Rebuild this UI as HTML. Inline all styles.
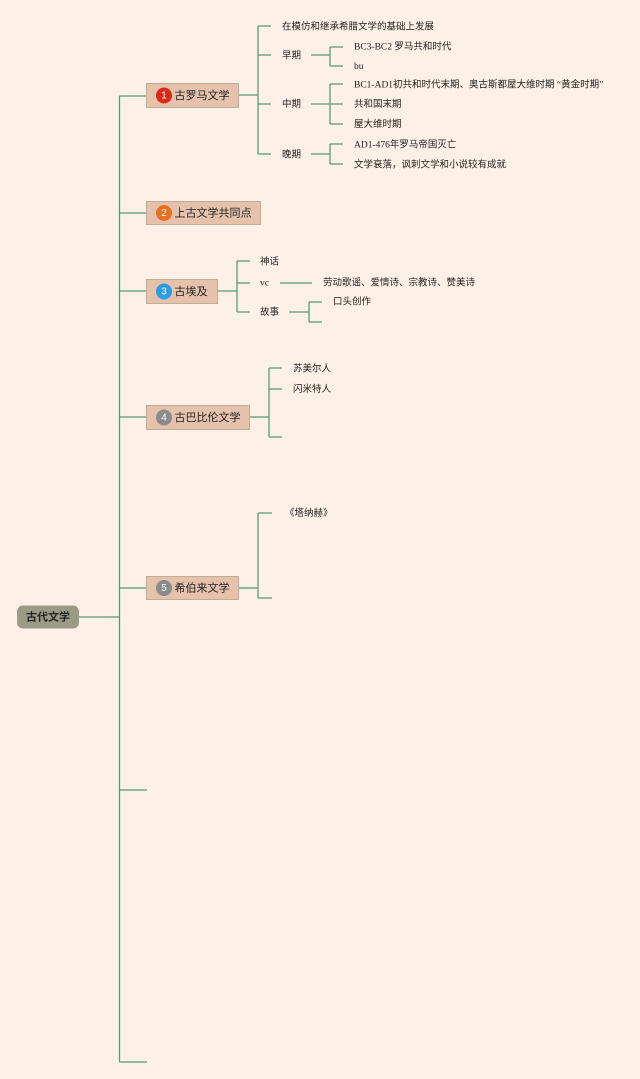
<!DOCTYPE html>
<html><head><meta charset="utf-8"><style>
html,body{margin:0;padding:0;background:#fdf1e7;}
svg{display:block;}
text{font-family:"Liberation Sans","Noto Sans CJK SC",sans-serif;fill:#222;}
.l{font-size:9.5px;font-family:"Liberation Serif","Noto Sans CJK SC",serif;}
.n{font-size:11px;}
.b{font-size:10px;fill:#fff;}
</style></head><body>
<svg width="640" height="1079" viewBox="0 0 640 1079" xmlns="http://www.w3.org/2000/svg">
<rect width="640" height="1079" fill="#fdf1e7"/>
<g stroke="#55997a" stroke-width="1.3" fill="none">
<!-- trunk -->
<path d="M79 617 H119.5 M119.5 96 V1062"/>
<path d="M119.5 96 H146 M119.5 213 H146 M119.5 291 H146 M119.5 417 H146 M119.5 588 H146 M119.5 790 H147 M119.5 1062 H147"/>
<!-- node1 -->
<path d="M238 95 H258 M258 26 V154 M258 26 H271 M258 55 H271 M258 104 H271 M258 154 H271"/>
<path d="M311 55 H330 M330 47 V66 M330 47 H343 M330 66 H343"/>
<path d="M311 104 H343 M330 84 V124 M330 84 H343 M330 124 H343"/>
<path d="M311 154 H330 M330 144 V164 M330 144 H343 M330 164 H343"/>
<!-- node3 -->
<path d="M217 291 H237 M237 261 V312 M237 261 H250 M237 283 H250 M237 312 H250"/>
<path d="M280 283 H312"/>
<path d="M289 312 H309 M309 302 V322 M309 302 H322 M309 322 H322"/>
<!-- node4 -->
<path d="M249 417 H269 M269 368 V437 M269 368 H282 M269 389 H282 M269 437 H282"/>
<!-- node5 -->
<path d="M238 588 H258 M258 513 V598 M258 513 H272 M258 598 H272"/>
</g>

<!-- root -->
<rect x="17" y="605.5" width="62" height="23" rx="6" fill="#9a9a86"/>
<text x="48" y="617.5" class="n" text-anchor="middle" dominant-baseline="central" style="font-weight:bold">古代文学</text>

<!-- main nodes -->
<g stroke="#bfae97" stroke-width="1" fill="#e6c2ac">
<rect x="146.5" y="83.5" width="92" height="24"/>
<rect x="146.5" y="201.5" width="114" height="23"/>
<rect x="146.5" y="279.5" width="71" height="24"/>
<rect x="146.5" y="405.5" width="103" height="24"/>
<rect x="146.5" y="576.5" width="92" height="23"/>
</g>
<circle cx="164" cy="95.5" r="8" fill="#da2a17"/>
<circle cx="164" cy="213" r="8" fill="#e8701e"/>
<circle cx="164" cy="291.5" r="8" fill="#2a9ee0"/>
<circle cx="164" cy="417.5" r="8" fill="#8b8b8b"/>
<circle cx="164" cy="588" r="8" fill="#8b8b8b"/>
<text x="164" y="96" class="b" text-anchor="middle" dominant-baseline="central">1</text>
<text x="164" y="213.5" class="b" text-anchor="middle" dominant-baseline="central">2</text>
<text x="164" y="292" class="b" text-anchor="middle" dominant-baseline="central">3</text>
<text x="164" y="418" class="b" text-anchor="middle" dominant-baseline="central">4</text>
<text x="164" y="588.5" class="b" text-anchor="middle" dominant-baseline="central">5</text>
<text x="174.5" y="96" class="n" dominant-baseline="central">古罗马文学</text>
<text x="174.5" y="213.5" class="n" dominant-baseline="central">上古文学共同点</text>
<text x="174.5" y="292" class="n" dominant-baseline="central">古埃及</text>
<text x="174.5" y="418" class="n" dominant-baseline="central">古巴比伦文学</text>
<text x="174.5" y="588.5" class="n" dominant-baseline="central">希伯来文学</text>

<!-- node1 leaves -->
<text x="282" y="27.5" class="l" dominant-baseline="central">在模仿和继承希腊文学的基础上发展</text>
<text x="282" y="56.5" class="l" dominant-baseline="central">早期</text>
<text x="282" y="105" class="l" dominant-baseline="central">中期</text>
<text x="282" y="155.5" class="l" dominant-baseline="central">晚期</text>
<text x="354" y="47.5" class="l" dominant-baseline="central">BC3-BC2 罗马共和时代</text>
<text x="354" y="67" class="l" dominant-baseline="central">bu</text>
<text x="354" y="85.5" class="l" dominant-baseline="central">BC1-AD1初共和时代末期、奥古斯都屋大维时期 “黄金时期”</text>
<text x="354" y="105" class="l" dominant-baseline="central">共和国末期</text>
<text x="354" y="125" class="l" dominant-baseline="central">屋大维时期</text>
<text x="354" y="145.5" class="l" dominant-baseline="central">AD1-476年罗马帝国灭亡</text>
<text x="354" y="165.5" class="l" dominant-baseline="central">文学衰落，讽刺文学和小说较有成就</text>
<!-- node3 -->
<text x="260" y="262.5" class="l" dominant-baseline="central">神话</text>
<text x="260" y="283.5" class="l" dominant-baseline="central">vc</text>
<text x="323" y="283.5" class="l" dominant-baseline="central">劳动歌谣、爱情诗、宗教诗、赞美诗</text>
<text x="260" y="313" class="l" dominant-baseline="central">故事</text>
<text x="333" y="302.5" class="l" dominant-baseline="central">口头创作</text>
<!-- node4 -->
<text x="293" y="369.5" class="l" dominant-baseline="central">苏美尔人</text>
<text x="293" y="390" class="l" dominant-baseline="central">闪米特人</text>
<!-- node5 -->
<text x="285" y="514" class="l" dominant-baseline="central">《塔纳赫》</text>
</svg>
</body></html>
